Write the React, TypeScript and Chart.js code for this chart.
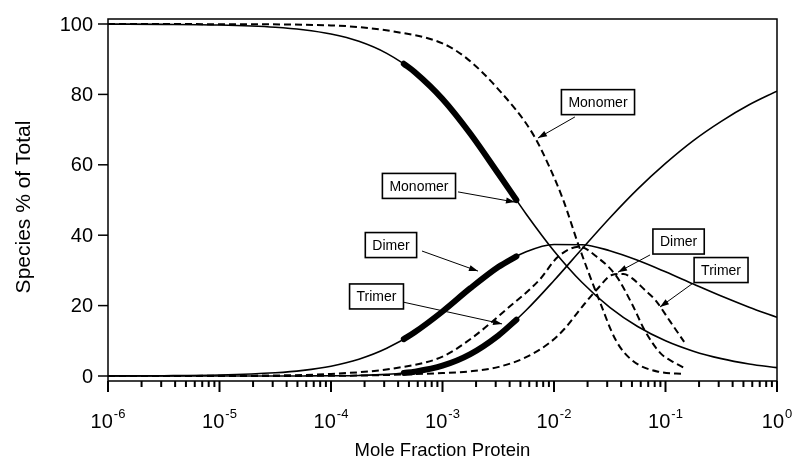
import React, { useEffect, useRef } from 'react';
import { Chart, registerables } from 'chart.js';
Chart.register(...registerables);

// ---- Data ----
const xSolid = [1e-6, 3.162e-6, 1e-5, 3.162e-5, 5.623e-5, 1e-4, 1.778e-4, 3.162e-4, 5.623e-4, 1e-3, 1.778e-3, 3.162e-3, 5.623e-3, 1e-2, 1.778e-2, 3.162e-2, 5.623e-2, 0.1, 0.1778, 0.3162, 0.5623, 1];
const monomerSolid = [99.97, 99.9, 99.7, 99.07, 98.37, 97.15, 95.08, 91.65, 86.36, 78.7, 68.83, 57.52, 46.04, 35.52, 26.62, 19.5, 14.05, 10.0, 7.05, 4.93, 3.43, 2.37];
const dimerSolid = [0.03, 0.09, 0.29, 0.92, 1.61, 2.79, 4.76, 7.86, 12.41, 18.33, 24.94, 30.97, 35.28, 37.36, 37.3, 35.6, 32.88, 29.6, 26.13, 22.72, 19.56, 16.68];
const trimerSolid = [0, 0, 0, 0.01, 0.02, 0.06, 0.16, 0.47, 1.23, 2.95, 6.24, 11.5, 18.67, 27.12, 36.08, 44.9, 53.1, 60.4, 66.88, 72.35, 77.04, 80.93];

const xThick = [4.5e-4, 5.623e-4, 1e-3, 1.778e-3, 3.162e-3, 4.6e-3];
const monomerThick = [88.7, 86.36, 78.7, 68.83, 57.52, 50.0];
const dimerThick = [10.48, 12.41, 18.33, 24.94, 30.97, 34.0];
const trimerThick = [0.86, 1.23, 2.95, 6.24, 11.5, 16.0];

const xDashMonomer = [1e-6, 1e-5, 1e-4, 4.1e-4, 1e-3, 1.64e-3, 3.2e-3, 6.4e-3, 9.1e-3, 1.21e-2, 1.68e-2, 2.54e-2, 3.58e-2, 5.0e-2, 8.7e-2, 0.147];
const monomerDash = [100, 99.95, 99.6, 97.6, 94.5, 90.3, 81.3, 69, 59.4, 50, 36.7, 21.6, 10.2, 4.5, 1.2, 0.6];

const xDashDimer = [1e-6, 1e-5, 1e-4, 4.1e-4, 1e-3, 1.87e-3, 3.7e-3, 7.4e-3, 1.08e-2, 1.68e-2, 2.5e-2, 3.6e-2, 5.0e-2, 6.5e-2, 9.0e-2, 0.12, 0.147];
const dimerDash = [0, 0.06, 0.6, 2.4, 5.5, 11.0, 18.8, 27.3, 33.8, 36.7, 33.5, 28.5, 20.5, 13, 6.5, 3.8, 2.3];

const xDashTrimer = [1e-6, 1e-4, 1e-3, 1.87e-3, 3.2e-3, 5.5e-3, 9.1e-3, 1.25e-2, 1.78e-2, 2.54e-2, 3.3e-2, 4.2e-2, 5.0e-2, 6.5e-2, 8.1e-2, 0.11, 0.147];
const trimerDash = [0, 0.05, 0.85, 1.4, 2.6, 5.2, 9.4, 13.5, 19.6, 25.3, 28.7, 29.0, 27.8, 24.5, 21.6, 15.5, 9.7];

const xMajorTicks = [1e-6, 1e-5, 1e-4, 1e-3, 1e-2, 1e-1, 1];
const xTickExponents = ['-6', '-5', '-4', '-3', '-2', '-1', '0'];
const yTicks = [0, 20, 40, 60, 80, 100];
const yTickLabels = ['0', '20', '40', '60', '80', '100'];

const xTitle = 'Mole Fraction Protein';
const yTitle = 'Species % of Total';

// annotation labels: box centre and arrow in data coordinates
const noteTexts = ['Monomer', 'Monomer', 'Dimer', 'Trimer', 'Dimer', 'Trimer'];
const noteX = [0.0248, 6.15e-4, 3.45e-4, 2.56e-4, 0.131, 0.315];
const noteY = [77.8, 54.0, 37.2, 22.6, 38.2, 30.1];
const arrowFromX = [0.0154, 1.377e-3, 6.55e-4, 4.43e-4, 0.0727, 0.177];
const arrowFromY = [73.6, 52.3, 35.5, 21.0, 34.4, 26.4];
const arrowToX = [0.00718, 4.47e-3, 2.08e-3, 3.42e-3, 0.0375, 0.0893];
const arrowToY = [67.6, 49.4, 29.8, 14.8, 29.5, 19.6];

const FONT = '"Liberation Sans", Arial, Helvetica, sans-serif';

function pts(xs: number[], ys: number[]) {
  return xs.map((x, i) => ({ x, y: ys[i] }));
}

const decorPlugin = {
  id: 'decor',
  afterDatasetsDraw(chart: any) {
    const { ctx, chartArea } = chart;
    const xs = chart.scales.x;
    const ys = chart.scales.y;
    const { left, right, top, bottom } = chartArea;
    ctx.save();
    ctx.strokeStyle = '#000';
    ctx.fillStyle = '#000';
    // frame
    ctx.lineWidth = 1.5;
    ctx.beginPath();
    ctx.moveTo(left, top);
    ctx.lineTo(right, top);
    ctx.lineTo(right, bottom);
    ctx.lineTo(left, bottom);
    ctx.closePath();
    ctx.stroke();

    // y ticks
    ctx.lineWidth = 1.5;
    ctx.font = `20px ${FONT}`;
    ctx.textAlign = 'right';
    ctx.textBaseline = 'middle';
    yTicks.forEach((v, i) => {
      const py = ys.getPixelForValue(v);
      ctx.beginPath();
      ctx.moveTo(left - 10, py);
      ctx.lineTo(left, py);
      ctx.stroke();
      ctx.fillText(yTickLabels[i], left - 15, py + 1);
    });

    // x ticks
    ctx.lineWidth = 2;
    xMajorTicks.forEach((v, i) => {
      const px = xs.getPixelForValue(v);
      ctx.beginPath();
      ctx.moveTo(px, bottom);
      ctx.lineTo(px, bottom + 11);
      ctx.stroke();
      if (i < xMajorTicks.length - 1) {
        for (let k = 2; k <= 9; k++) {
          const mx = xs.getPixelForValue(v * k);
          ctx.beginPath();
          ctx.moveTo(mx, bottom);
          ctx.lineTo(mx, bottom + 6);
          ctx.stroke();
        }
      }
      // label 10^n
      ctx.textAlign = 'left';
      ctx.textBaseline = 'alphabetic';
      ctx.font = `20px ${FONT}`;
      const w1 = ctx.measureText('10').width;
      ctx.font = `13px ${FONT}`;
      const w2 = ctx.measureText(xTickExponents[i]).width;
      const start = px - (w1 + w2 + 1) / 2;
      ctx.font = `20px ${FONT}`;
      ctx.fillText('10', start, 428);
      ctx.font = `13px ${FONT}`;
      ctx.fillText(xTickExponents[i], start + w1 + 1, 418);
    });

    // axis titles
    ctx.font = `18.5px ${FONT}`;
    ctx.textAlign = 'center';
    ctx.textBaseline = 'alphabetic';
    ctx.fillText(xTitle, (left + right) / 2, 456);
    ctx.save();
    ctx.translate(30, (top + bottom) / 2 + 7);
    ctx.rotate(-Math.PI / 2);
    ctx.font = `21px ${FONT}`;
    ctx.textBaseline = 'alphabetic';
    ctx.fillText(yTitle, 0, 0);
    ctx.restore();

    // annotations
    noteTexts.forEach((t, i) => {
      const fx = xs.getPixelForValue(arrowFromX[i]);
      const fy = ys.getPixelForValue(arrowFromY[i]);
      const tx = xs.getPixelForValue(arrowToX[i]);
      const ty = ys.getPixelForValue(arrowToY[i]);
      ctx.lineWidth = 1;
      ctx.beginPath();
      ctx.moveTo(fx, fy);
      ctx.lineTo(tx, ty);
      ctx.stroke();
      const ang = Math.atan2(ty - fy, tx - fx);
      const L = 9, W = 3;
      ctx.beginPath();
      ctx.moveTo(tx, ty);
      ctx.lineTo(tx - L * Math.cos(ang) + W * Math.sin(ang), ty - L * Math.sin(ang) - W * Math.cos(ang));
      ctx.lineTo(tx - L * Math.cos(ang) - W * Math.sin(ang), ty - L * Math.sin(ang) + W * Math.cos(ang));
      ctx.closePath();
      ctx.fill();

      const cx = xs.getPixelForValue(noteX[i]);
      const cy = ys.getPixelForValue(noteY[i]);
      ctx.font = `14px ${FONT}`;
      const tw = ctx.measureText(t).width;
      const bw = tw + 14;
      const bh = 25;
      ctx.fillStyle = '#fff';
      ctx.fillRect(cx - bw / 2, cy - bh / 2, bw, bh);
      ctx.lineWidth = 1.6;
      ctx.strokeStyle = '#000';
      ctx.strokeRect(cx - bw / 2, cy - bh / 2, bw, bh);
      ctx.fillStyle = '#000';
      ctx.textAlign = 'center';
      ctx.textBaseline = 'middle';
      ctx.fillText(t, cx, cy + 1);
    });
    ctx.restore();
  },
};

export default function App() {
  const ref = useRef<HTMLCanvasElement | null>(null);
  useEffect(() => {
    document.body.style.margin = '0';
    const canvas = ref.current;
    if (!canvas) return;
    const thin = { borderColor: '#000', borderWidth: 1.6, pointRadius: 0, fill: false };
    const thick = { borderColor: '#000', borderWidth: 6, pointRadius: 0, fill: false, borderCapStyle: 'round' };
    const dash = { borderColor: '#000', borderWidth: 2, pointRadius: 0, fill: false, borderDash: [7, 4] };
    const chart = new Chart(canvas, {
      type: 'line',
      data: {
        datasets: [
          { ...thin, data: pts(xSolid, monomerSolid) },
          { ...thin, data: pts(xSolid, dimerSolid) },
          { ...thin, data: pts(xSolid, trimerSolid) },
          { ...thick, data: pts(xThick, monomerThick) },
          { ...thick, data: pts(xThick, dimerThick) },
          { ...thick, data: pts(xThick, trimerThick) },
          { ...dash, data: pts(xDashMonomer, monomerDash) },
          { ...dash, data: pts(xDashDimer, dimerDash) },
          { ...dash, data: pts(xDashTrimer, trimerDash) },
        ] as any,
      },
      options: {
        animation: false,
        responsive: false,
        maintainAspectRatio: false,
        devicePixelRatio: 1,
        layout: { padding: { left: 108, right: 17, top: 19, bottom: 80 } },
        plugins: { legend: { display: false }, tooltip: { enabled: false } },
        elements: { point: { radius: 0 }, line: { cubicInterpolationMode: 'monotone' } },
        scales: {
          x: { type: 'logarithmic', min: 1e-6, max: 1, display: false },
          y: { type: 'linear', min: -1.42, max: 101.42, display: false },
        },
      } as any,
      plugins: [decorPlugin],
    });
    return () => chart.destroy();
  }, []);
  return (
    <canvas ref={ref} width={794} height={461} style={{ display: 'block', width: 794, height: 461 }} />
  );
}
